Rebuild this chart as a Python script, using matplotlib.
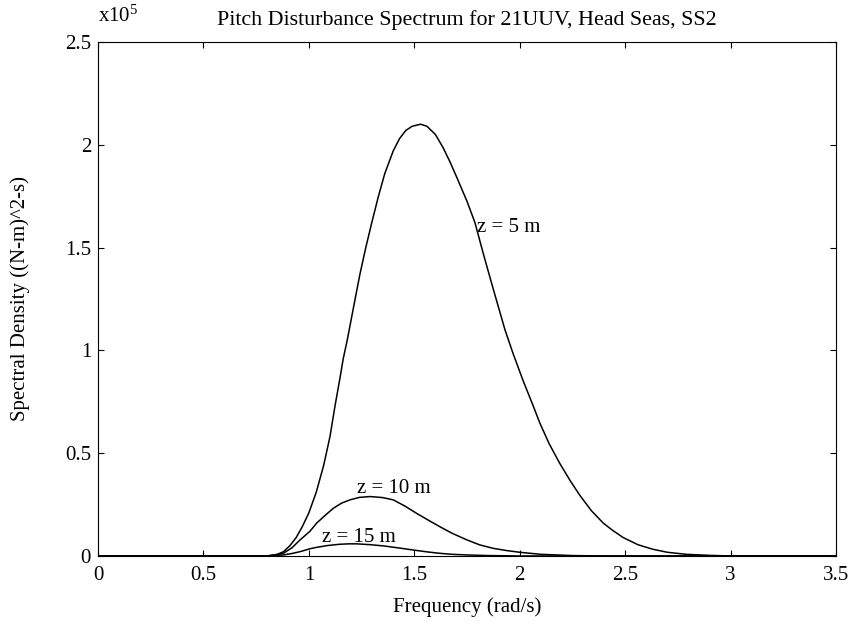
import matplotlib
matplotlib.use("Agg")
import matplotlib.pyplot as plt

plt.rcParams['font.family'] = ['Liberation Serif', 'DejaVu Serif']
plt.rcParams['mathtext.fontset'] = 'custom'
plt.rcParams['mathtext.rm'] = 'Liberation Serif'
plt.rcParams['mathtext.it'] = 'Liberation Serif:italic'

# frequency (rad/s) and spectral density (x1e5)
freq_5 = [0.0, 0.5, 0.80, 0.85, 0.88, 0.91, 0.94, 0.97, 1.00, 1.035, 1.07, 1.10,
          1.124, 1.15, 1.163, 1.182, 1.21, 1.242, 1.27, 1.298, 1.33, 1.36, 1.40,
          1.43, 1.46, 1.49, 1.53, 1.56, 1.60, 1.637, 1.67, 1.70, 1.75, 1.788,
          1.83, 1.874, 1.93, 1.97, 2.017, 2.06, 2.096, 2.14, 2.19, 2.24, 2.285,
          2.34, 2.396, 2.44, 2.49, 2.56, 2.63, 2.70, 2.79, 2.90, 3.0, 3.5]
dens_5 = [0.0, 0.0, 0.0, 0.008, 0.021, 0.05, 0.09, 0.145, 0.21, 0.31, 0.44, 0.58,
          0.73, 0.88, 0.96, 1.05, 1.20, 1.37, 1.50, 1.62, 1.75, 1.86, 1.97,
          2.03, 2.07, 2.09, 2.10, 2.09, 2.05, 1.985, 1.915, 1.845, 1.725, 1.62,
          1.46, 1.30, 1.10, 0.98, 0.85, 0.74, 0.645, 0.545, 0.45, 0.365, 0.295,
          0.22, 0.16, 0.125, 0.09, 0.055, 0.033, 0.018, 0.008, 0.003, 0.0, 0.0]

freq_10 = [0.0, 0.5, 0.80, 0.84, 0.879, 0.92, 0.958, 1.005, 1.037, 1.08, 1.116,
           1.155, 1.195, 1.24, 1.29, 1.35, 1.40, 1.455, 1.51, 1.565, 1.62, 1.68,
           1.75, 1.81, 1.875, 1.94, 2.0, 2.1, 2.25, 2.4, 3.5]
dens_10 = [0.0, 0.0, 0.0, 0.004, 0.013, 0.04, 0.078, 0.12, 0.16, 0.20, 0.232,
           0.257, 0.273, 0.285, 0.289, 0.284, 0.273, 0.243, 0.208, 0.175, 0.143, 0.11,
           0.078, 0.054, 0.037, 0.026, 0.018, 0.008, 0.002, 0.0, 0.0]

freq_15 = [0.0, 0.5, 0.80, 0.879, 0.92, 0.958, 1.005, 1.037, 1.09, 1.147, 1.19,
           1.227, 1.29, 1.353, 1.42, 1.495, 1.56, 1.62, 1.68, 1.75, 1.85, 2.0, 3.5]
dens_15 = [0.0, 0.0, 0.0, 0.005, 0.012, 0.021, 0.035, 0.042, 0.051, 0.057, 0.059,
           0.059, 0.055, 0.049, 0.04, 0.029, 0.02, 0.013, 0.008, 0.005, 0.002, 0.0, 0.0]

fig = plt.figure(figsize=(8.53, 6.3), dpi=100)
ax = fig.add_axes([0.1149, 0.1175, 0.8652, 0.8159])

ax.plot(freq_5, dens_5, color='black', linewidth=1.1)
ax.plot(freq_10, dens_10, color='black', linewidth=1.1)
ax.plot(freq_15, dens_15, color='black', linewidth=1.1)

ax.text(1.795, 1.60, "z = 5 m", fontsize=15, va='center')
ax.text(1.227, 0.33, "z = 10 m", fontsize=15, va='center')
ax.text(1.06, 0.09, "z = 15 m", fontsize=15, va='center')

ax.set_xlim(0, 3.5)
ax.set_ylim(0, 2.5)
ax.set_xticks([0, 0.5, 1, 1.5, 2, 2.5, 3, 3.5])
ax.set_xticklabels(["0", "0.5", "1", "1.5", "2", "2.5", "3", "3.5"])
ax.set_yticks([0, 0.5, 1, 1.5, 2, 2.5])
ax.set_yticklabels(["0", "0.5", "1", "1.5", "2", "2.5"])
ax.tick_params(direction='in', top=True, right=True, length=4, labelsize=15)
ax.tick_params(axis='x', pad=7)
ax.tick_params(axis='y', pad=5)

ax.set_title("Pitch Disturbance Spectrum for 21UUV, Head Seas, SS2", fontsize=15.8, pad=12)
ax.set_xlabel("Frequency (rad/s)", fontsize=15, labelpad=9)
ax.set_ylabel("Spectral Density ((N-m)^2-s)", fontsize=15, labelpad=25)
ax.text(0.0, 1.03, r"x10$^5$", transform=ax.transAxes, fontsize=15, ha='left', va='bottom')

fig.savefig("out.png", dpi=100)
